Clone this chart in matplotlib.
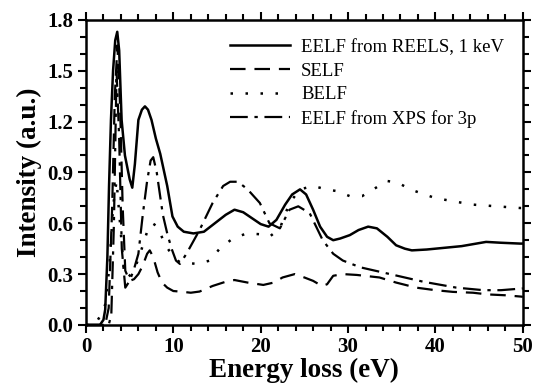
import matplotlib
matplotlib.use("Agg")
import matplotlib.pyplot as plt
from matplotlib.ticker import MultipleLocator

plt.rcParams['font.family'] = ['Liberation Serif', 'DejaVu Serif']

# EELF from REELS, 1 keV (solid)
reels_e = [0, 1.6, 2.0, 2.2, 2.45, 2.64, 2.86, 3.1, 3.35, 3.58, 3.8, 4.08, 4.46, 5.0, 5.3,
           5.6, 6.0, 6.4, 6.75, 7.1, 7.5, 8.0, 8.5, 9.3, 9.9, 10.5, 11.2, 12.3, 13.5, 15,
           16, 17, 18, 19, 20, 20.9, 21.8, 22.8, 23.6, 24.5, 25.2, 26, 26.8, 27.6, 28.3,
           29.1, 30.2, 31.2, 32.3, 33.3, 34.5, 35.5, 36.5, 37.3, 39, 41, 43, 45.8, 47.5,
           49.7, 50]
reels_i = [0, 0, 0.03, 0.09, 0.4, 0.82, 1.21, 1.5, 1.68, 1.73, 1.62, 1.21, 1.0, 0.86, 0.81,
           0.95, 1.21, 1.27, 1.29, 1.27, 1.21, 1.1, 1.01, 0.82, 0.64, 0.58, 0.55, 0.54, 0.55,
           0.61, 0.65, 0.68, 0.665, 0.63, 0.595, 0.58, 0.62, 0.71, 0.77, 0.80, 0.77, 0.68,
           0.58, 0.52, 0.50, 0.51, 0.53, 0.56, 0.58, 0.57, 0.52, 0.47, 0.45, 0.44, 0.445,
           0.455, 0.465, 0.49, 0.485, 0.48, 0.48]

# SELF (dashed)
self_e = [0, 2.2, 2.6, 3.0, 3.3, 3.6, 3.9, 4.2, 4.5, 5.0, 5.5, 6.0, 6.5, 7.0, 7.3, 7.7, 8.2,
          8.7, 9.3, 10, 10.75, 12, 13, 14.5, 16, 17, 18.5, 20.3, 21.5, 22.5, 23.9, 25, 26,
          27, 27.6, 28.3, 29.4, 31, 33.6, 35.5, 37.8, 40, 42, 44.3, 46, 48, 49.85, 50]
self_i = [0, 0, 0.1, 0.7, 1.35, 1.65, 1.3, 0.7, 0.32, 0.26, 0.27, 0.3, 0.35, 0.42, 0.44, 0.40,
          0.31, 0.25, 0.22, 0.2, 0.197, 0.19, 0.197, 0.23, 0.255, 0.265, 0.25, 0.236, 0.25,
          0.28, 0.30, 0.28, 0.26, 0.23, 0.24, 0.29, 0.30, 0.295, 0.28, 0.25, 0.22, 0.205,
          0.195, 0.19, 0.18, 0.175, 0.167, 0.165]

# BELF (dotted)
belf_e = [0, 1.0, 1.6, 2.2, 2.7, 3.1, 3.5, 3.9, 4.3, 4.8, 5.5, 6.2, 7.0, 7.6, 8.2, 9, 10,
          10.75, 12.7, 14.2, 15.3, 16.8, 18.4, 20, 21, 22.2, 23.3, 24.5, 26, 27.5, 28.7,
          30.2, 31.6, 32.9, 34.4, 35.7, 37.1, 39.9, 42, 44.3, 47, 49.7, 50]
belf_i = [0, 0, 0.05, 0.12, 0.35, 0.7, 0.85, 0.6, 0.35, 0.28, 0.32, 0.42, 0.55, 0.6, 0.58,
          0.48, 0.40, 0.37, 0.36, 0.38, 0.45, 0.51, 0.54, 0.535, 0.52, 0.57, 0.72, 0.80,
          0.82, 0.80, 0.79, 0.76, 0.76, 0.80, 0.85, 0.84, 0.80, 0.75, 0.73, 0.71, 0.70,
          0.69, 0.69]

# EELF from XPS for 3p (dash-dot)
xps_e = [0, 2.6, 2.9, 3.2, 3.5, 3.8, 4.1, 4.5, 5.0, 5.5, 6.0, 6.5, 7.0, 7.4, 7.7, 8.1, 8.8,
         9.3, 9.8, 10.3, 10.75, 11.5, 13, 14.5, 15.7, 16.5, 17.4, 18.5, 19.9, 21, 22.2,
         23.3, 24.3, 25.6, 27.1, 28.3, 29.4, 31.4, 34.8, 38.6, 42.4, 45.5, 47.5, 49.9, 50]
xps_i = [0, 0, 0.06, 0.6, 1.5, 1.1, 0.45, 0.22, 0.26, 0.33, 0.42, 0.65, 0.85, 0.97, 0.99,
         0.9, 0.65, 0.54, 0.45, 0.38, 0.36, 0.42, 0.56, 0.72, 0.82, 0.845, 0.845, 0.8, 0.72,
         0.6, 0.57, 0.68, 0.70, 0.66, 0.50, 0.42, 0.38, 0.34, 0.30, 0.255, 0.22, 0.205,
         0.205, 0.215, 0.215]

fig = plt.figure(figsize=(5.34, 3.91), dpi=100)
ax = fig.add_axes([0.161, 0.169, 0.818, 0.78])

ax.plot(reels_e, reels_i, color="black", lw=1.8, label="EELF from REELS, 1 keV")
ax.plot(self_e, self_i, color="black", lw=1.6, linestyle=(0, (7, 4)), label="SELF")
ax.plot(belf_e, belf_i, color="black", lw=1.8, linestyle=(0, (1, 5)), label="BELF")
ax.plot(xps_e, xps_i, color="black", lw=1.6, linestyle=(0, (8, 3, 1.5, 3)),
        label="EELF from XPS for 3p")

ax.set_xlim(0, 50)
ax.set_ylim(0, 1.8)
ax.xaxis.set_major_locator(MultipleLocator(10))
ax.xaxis.set_minor_locator(MultipleLocator(2))
ax.yaxis.set_major_locator(MultipleLocator(0.3))
ax.yaxis.set_minor_locator(MultipleLocator(0.1))
ax.yaxis.set_major_formatter(plt.FormatStrFormatter('%.1f'))

for s in ax.spines.values():
    s.set_linewidth(1.8)
ax.tick_params(which="both", direction="out", top=True, right=True, width=1.5)
ax.tick_params(which="major", length=6)
ax.tick_params(which="minor", length=4)
ax.tick_params(labelsize=15, pad=3)
for lab in ax.get_xticklabels() + ax.get_yticklabels():
    lab.set_fontweight("bold")

ax.set_xlabel("Energy loss (eV)", fontsize=19.5, fontweight="bold", labelpad=0)
ax.set_ylabel("Intensity (a.u.)", fontsize=19.5, fontweight="bold", labelpad=4)

ax.legend(loc="upper right", frameon=False, fontsize=13.5, handlelength=3.2,
          handletextpad=0.6, labelspacing=0.35, borderaxespad=0.6)

fig.savefig("out.png", dpi=100)
